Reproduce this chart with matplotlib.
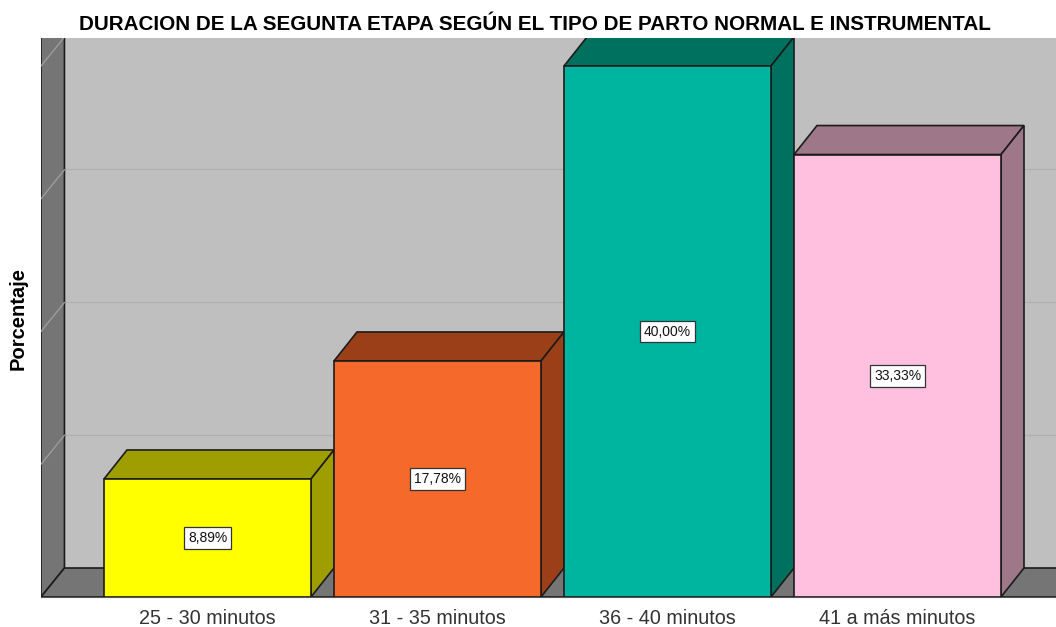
"""Barras 3D de la duracion de la segunda etapa del parto."""
import matplotlib

matplotlib.use("Agg")
import matplotlib.pyplot as plt
from matplotlib.patches import Polygon

categorias = ["25 - 30 minutos", "31 - 35 minutos", "36 - 40 minutos", "41 a más minutos"]
valores = [8.89, 17.78, 40.00, 33.33]
etiquetas = ["8,89%", "17,78%", "40,00%", "33,33%"]
gridlineas = [0, 10, 20, 30, 40]

colores = ["#FFFF00", "#F5692B", "#00B5A0", "#FFC0E0"]
oscuros = ["#9E9E00", "#9A3F18", "#00705F", "#9E7788"]

W, H = 1056, 627
PX_X, PX_Y = 230.0, 13.275  # pixeles por categoria / por punto porcentual
DX, DY = 23 / PX_X, 29 / PX_Y  # profundidad del efecto 3D
ANCHO = 207 / PX_X
LINEA = "#1c1c1c"

plt.rcParams["font.family"] = ["Liberation Sans", "DejaVu Sans"]

fig = plt.figure(figsize=(W / 100, H / 100), dpi=100, facecolor="white")
ax = fig.add_axes([41 / W, (H - 597) / H, (W - 41) / W, 559 / H])
xmin, xmax = (41 - 207.5) / PX_X, (W - 207.5) / PX_X
ymax = 559 / PX_Y
ax.set_xlim(xmin, xmax)
ax.set_ylim(0, ymax)
ax.set_facecolor("#BFBFBF")


def poly(puntos, color, edge=LINEA, lw=1.2, z=2):
    ax.add_patch(Polygon(puntos, closed=True, facecolor=color, edgecolor=edge,
                         linewidth=lw, joinstyle="miter", zorder=z))


# pared izquierda y piso
x_fondo = xmin + DX + 0.002
poly([(xmin, 0), (x_fondo, DY), (x_fondo, ymax + 1), (xmin, ymax + 1)], "#757575", z=1)
poly([(xmin, 0), (x_fondo, DY), (xmax + 1, DY), (xmax + 1, 0)], "#757575", z=1)

for g in gridlineas[1:]:
    ax.plot([x_fondo, xmax], [g + DY + 0.05, g + DY + 0.05], color="#B0B0B0", lw=0.9, zorder=0.5)
    ax.plot([xmin, x_fondo], [g, g + DY], color="#A0A0A0", lw=0.9, zorder=1.5)

# barras, de izquierda a derecha
for i, v in enumerate(valores):
    x0, x1 = i - ANCHO / 2, i + ANCHO / 2
    poly([(x0, v), (x0 + DX, v + DY), (x1 + DX, v + DY), (x1, v)], oscuros[i], z=3 + i)
    poly([(x1, 0), (x1 + DX, DY), (x1 + DX, v + DY), (x1, v)], oscuros[i], z=3 + i)
    ax.bar(i, v, width=ANCHO, color=colores[i], edgecolor=LINEA, linewidth=1.2, zorder=3 + i)
    ax.text(i, v / 2, etiquetas[i], ha="center", va="center", fontsize=10, color="#111111",
            zorder=10, bbox=dict(boxstyle="square,pad=0.28", facecolor="white",
                                 edgecolor="#333333", linewidth=0.9))

ax.set_xticks(range(len(categorias)), categorias)
ax.set_yticks([])
ax.tick_params(axis="x", length=0, pad=9, labelsize=14.2, labelcolor="#333333")
for lado, spine in ax.spines.items():
    spine.set_visible(lado == "bottom")
    spine.set_color("#555555")

fig.text(534.5 / W, 1 - 24 / H, "DURACION DE LA SEGUNTA ETAPA SEGÚN EL TIPO DE PARTO NORMAL E INSTRUMENTAL",
         ha="center", va="center", fontsize=14.9, fontweight="bold", color="black")
fig.text(18.5 / W, 1 - 318 / H, "Porcentaje", rotation=90, ha="center", va="center",
         fontsize=14.5, fontweight="bold", color="black")

fig.savefig("out.png", dpi=100, facecolor="white")
plt.close(fig)
